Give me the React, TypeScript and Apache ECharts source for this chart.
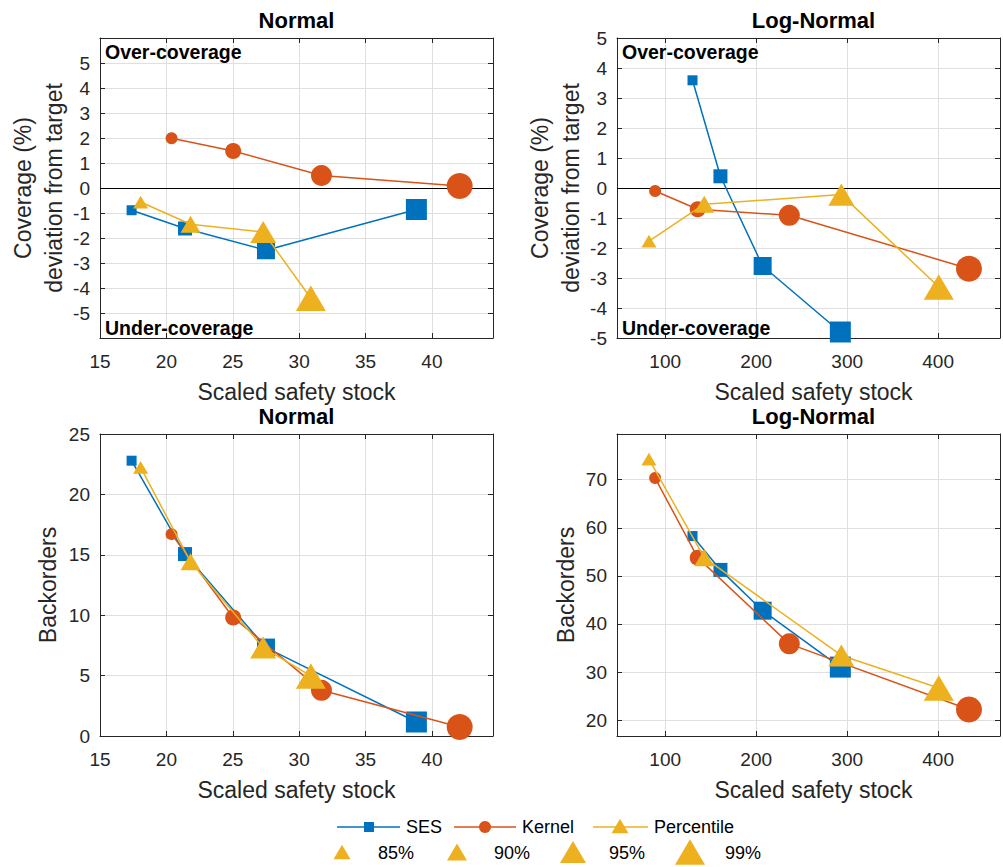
import React, { useEffect, useRef } from "react";
import * as echarts from "echarts";

// ---------- data ----------
const levels = ["85%", "90%", "95%", "99%"];
const methods = ["SES", "Kernel", "Percentile"];

// Normal distribution: scaled safety stock per level
const normalSesX = [17.38, 21.4, 27.5, 38.83];
const normalKernelX = [20.39, 25.03, 31.68, 42.09];
const normalPctX = [18.06, 21.82, 27.29, 30.88];
// Normal: coverage deviation from target (%)
const normalSesCov = [-0.89, -1.62, -2.49, -0.86];
const normalKernelCov = [1.99, 1.48, 0.5, 0.08];
const normalPctCov = [-0.56, -1.45, -1.76, -4.41];
// Normal: backorders
const normalSesBo = [22.79, 15.06, 7.32, 1.16];
const normalKernelBo = [16.71, 9.81, 3.78, 0.75];
const normalPctBo = [22.24, 14.42, 7.32, 4.97];

// Log-Normal distribution: scaled safety stock per level
const lognSesX = [130, 160.7, 207.1, 292.5];
const lognKernelX = [88.9, 135.7, 236.4, 433.9];
const lognPctX = [82.1, 142.9, 293.6, 400.7];
// Log-Normal: coverage deviation
const lognSesCov = [3.59, 0.39, -2.6, -4.8];
const lognKernelCov = [-0.1, -0.71, -0.91, -2.69];
const lognPctCov = [-1.77, -0.54, -0.22, -3.3];
// Log-Normal: backorders
const lognSesBo = [58.28, 51.24, 42.76, 31.03];
const lognKernelBo = [70.34, 53.79, 35.86, 22.21];
const lognPctBo = [74.28, 53.79, 33.45, 26.69];

// tick labels
const normalXTicks = [15, 20, 25, 30, 35, 40];
const lognXTicks = [100, 200, 300, 400];
const covYTicks = [-5, -4, -3, -2, -1, 0, 1, 2, 3, 4, 5];
const boNormalYTicks = [0, 5, 10, 15, 20, 25];
const boLognYTicks = [20, 30, 40, 50, 60, 70];

// ---------- style ----------
const FONT = '"Liberation Sans", Arial, Helvetica, sans-serif';
const AX = "#262626";
const GRIDC = "#dfdfdf";
const C_SES = "#0072BD";
const C_KER = "#D95319";
const C_PCT = "#EDB120";
const squareSizes = [10, 14, 18, 21];
const circleSizes = [12, 16, 21, 26];
const triangleSizes = [15, 20, 26, 30];
const TRI_H = 0.85;
const TICK_FS = 19;
const LABEL_FS = 23;

const grids = [
  { left: 100, top: 38, width: 393, height: 300 },
  { left: 617, top: 38, width: 393, height: 300 },
  { left: 100, top: 434, width: 393, height: 302 },
  { left: 617, top: 434, width: 393, height: 302 },
];

const fmt = (ticks: number[]) => (v: number) =>
  ticks.some((t) => Math.abs(t - v) < 1e-9) ? String(v) : "";

function xAxes(gi: number, min: number, max: number, step: number, ticks: number[]) {
  const common = {
    type: "value",
    gridIndex: gi,
    min,
    max,
    minInterval: step,
    maxInterval: step,
  };
  return [
    {
      ...common,
      position: "bottom",
      axisLine: { show: true, onZero: false, lineStyle: { color: AX, width: 1 } },
      axisTick: { show: true, inside: true, length: 5, lineStyle: { color: AX } },
      axisLabel: { color: AX, fontSize: TICK_FS, fontFamily: FONT, margin: 14, formatter: fmt(ticks) },
      splitLine: { show: true, lineStyle: { color: GRIDC, width: 1 } },
    },
    {
      ...common,
      position: "top",
      axisLine: { show: true, onZero: false, lineStyle: { color: AX, width: 1 } },
      axisTick: { show: true, inside: true, length: 5, lineStyle: { color: AX } },
      axisLabel: { show: false },
      splitLine: { show: false },
    },
  ];
}

function yAxes(gi: number, min: number, max: number, step: number, ticks: number[]) {
  const common = {
    type: "value",
    gridIndex: gi,
    min,
    max,
    minInterval: step,
    maxInterval: step,
  };
  return [
    {
      ...common,
      position: "left",
      axisLine: { show: true, onZero: false, lineStyle: { color: AX, width: 1 } },
      axisTick: { show: true, inside: true, length: 5, lineStyle: { color: AX } },
      axisLabel: { color: AX, fontSize: TICK_FS, fontFamily: FONT, margin: 10, formatter: fmt(ticks) },
      splitLine: { show: true, lineStyle: { color: GRIDC, width: 1 } },
    },
    {
      ...common,
      position: "right",
      axisLine: { show: true, onZero: false, lineStyle: { color: AX, width: 1 } },
      axisTick: { show: true, inside: true, length: 5, lineStyle: { color: AX } },
      axisLabel: { show: false },
      splitLine: { show: false },
    },
  ];
}

function ser(
  name: string,
  xs: number[],
  ys: number[],
  symbol: string,
  sizes: number[],
  color: string,
  gi: number,
  z: number,
  zeroLine = false
) {
  const s: any = {
    type: "line",
    name,
    xAxisIndex: gi * 2,
    yAxisIndex: gi * 2,
    data: xs.map((x, i) => [x, ys[i]]),
    symbol,
    symbolSize: (_v: any, p: any) =>
      symbol === "triangle"
        ? [sizes[p.dataIndex], sizes[p.dataIndex] * TRI_H]
        : sizes[p.dataIndex],
    showAllSymbol: true,
    lineStyle: { color, width: 1.5 },
    itemStyle: { color, borderColor: color, borderWidth: 0 },
    z,
    silent: true,
  };
  if (zeroLine) {
    s.markLine = {
      silent: true,
      z: 1,
      symbol: ["none", "none"],
      label: { show: false },
      lineStyle: { color: "#000", width: 1.2, type: "solid" },
      data: [{ yAxis: 0 }],
    };
  }
  return s;
}

function txt(x: number, y: number, text: string, opts: any = {}) {
  const align = opts.align || "center";
  return {
    type: "text",
    x,
    y,
    rotation: opts.rotation || 0,
    silent: true,
    z: 100,
    style: {
      text,
      fontSize: opts.size || LABEL_FS,
      fontWeight: opts.bold ? "bold" : "normal",
      fontFamily: FONT,
      fill: opts.color || AX,
      align,
      textAlign: align,
      verticalAlign: "middle",
      textVerticalAlign: "middle",
      lineHeight: opts.lineHeight || undefined,
    },
  };
}

function tri(cx: number, cy: number, w: number, color: string) {
  const h = w * TRI_H;
  return {
    type: "polygon",
    silent: true,
    z: 100,
    shape: {
      points: [
        [cx - w / 2, cy + h / 2],
        [cx + w / 2, cy + h / 2],
        [cx, cy - h / 2],
      ],
    },
    style: { fill: color },
  };
}

function buildOption() {
  const xAxis = [
    ...xAxes(0, 15, 44.6, 5, normalXTicks),
    ...xAxes(1, 47, 468, 100, lognXTicks),
    ...xAxes(2, 15, 44.6, 5, normalXTicks),
    ...xAxes(3, 47, 468, 100, lognXTicks),
  ];
  const yAxis = [
    ...yAxes(0, -6, 6, 1, covYTicks),
    ...yAxes(1, -5, 5, 1, covYTicks),
    ...yAxes(2, 0, 25, 5, boNormalYTicks),
    ...yAxes(3, 16.7, 79.5, 10, boLognYTicks),
  ];
  const series = [
    ser(methods[0], normalSesX, normalSesCov, "rect", squareSizes, C_SES, 0, 2, true),
    ser(methods[1], normalKernelX, normalKernelCov, "circle", circleSizes, C_KER, 0, 3),
    ser(methods[2], normalPctX, normalPctCov, "triangle", triangleSizes, C_PCT, 0, 4),
    ser(methods[0], lognSesX, lognSesCov, "rect", squareSizes, C_SES, 1, 2, true),
    ser(methods[1], lognKernelX, lognKernelCov, "circle", circleSizes, C_KER, 1, 3),
    ser(methods[2], lognPctX, lognPctCov, "triangle", triangleSizes, C_PCT, 1, 4),
    ser(methods[0], normalSesX, normalSesBo, "rect", squareSizes, C_SES, 2, 2),
    ser(methods[1], normalKernelX, normalKernelBo, "circle", circleSizes, C_KER, 2, 3),
    ser(methods[2], normalPctX, normalPctBo, "triangle", triangleSizes, C_PCT, 2, 4),
    ser(methods[0], lognSesX, lognSesBo, "rect", squareSizes, C_SES, 3, 2),
    ser(methods[1], lognKernelX, lognKernelBo, "circle", circleSizes, C_KER, 3, 3),
    ser(methods[2], lognPctX, lognPctBo, "triangle", triangleSizes, C_PCT, 3, 4),
  ];

  const cxL = 296.5;
  const cxR = 813.5;
  const ylab = "Coverage (%)\ndeviation from target";
  const legendSizes = [17, 20, 26, 30];
  const legendTriX = [342, 457, 573, 690];
  const legendTxtX = [378, 494, 609, 725];

  const graphic: any[] = [
    txt(cxL, 20, "Normal", { bold: true, color: "#000", size: 22 }),
    txt(cxR, 20, "Log-Normal", { bold: true, color: "#000", size: 22 }),
    txt(cxL, 416, "Normal", { bold: true, color: "#000", size: 22 }),
    txt(cxR, 416, "Log-Normal", { bold: true, color: "#000", size: 22 }),
    txt(cxL, 392, "Scaled safety stock"),
    txt(cxR, 392, "Scaled safety stock"),
    txt(cxL, 790, "Scaled safety stock"),
    txt(cxR, 790, "Scaled safety stock"),
    txt(38.5, 188, ylab, { rotation: Math.PI / 2, lineHeight: 31 }),
    txt(555.5, 188, ylab, { rotation: Math.PI / 2, lineHeight: 31 }),
    txt(48, 585, "Backorders", { rotation: Math.PI / 2 }),
    txt(566, 585, "Backorders", { rotation: Math.PI / 2 }),
    txt(105, 52, "Over-coverage", { bold: true, size: 19.5, align: "left", color: "#000" }),
    txt(105, 328, "Under-coverage", { bold: true, size: 19.5, align: "left", color: "#000" }),
    txt(622, 52, "Over-coverage", { bold: true, size: 19.5, align: "left", color: "#000" }),
    txt(622, 328, "Under-coverage", { bold: true, size: 19.5, align: "left", color: "#000" }),
    // legend row 1
    { type: "line", silent: true, z: 100, shape: { x1: 337, y1: 827, x2: 400, y2: 827 }, style: { stroke: C_SES, lineWidth: 1.5 } },
    { type: "rect", silent: true, z: 100, shape: { x: 364, y: 822, width: 10, height: 10 }, style: { fill: C_SES } },
    txt(406, 827, methods[0], { size: 18, align: "left", color: "#000" }),
    { type: "line", silent: true, z: 100, shape: { x1: 454, y1: 827, x2: 516, y2: 827 }, style: { stroke: C_KER, lineWidth: 1.5 } },
    { type: "circle", silent: true, z: 100, shape: { cx: 485, cy: 827, r: 6 }, style: { fill: C_KER } },
    txt(522, 827, methods[1], { size: 18, align: "left", color: "#000" }),
    { type: "line", silent: true, z: 100, shape: { x1: 593, y1: 827, x2: 648, y2: 827 }, style: { stroke: C_PCT, lineWidth: 1.5 } },
    tri(620, 826, 17, C_PCT),
    txt(654, 827, methods[2], { size: 18, align: "left", color: "#000" }),
  ];
  levels.forEach((lv, i) => {
    graphic.push(tri(legendTriX[i], 852, legendSizes[i], C_PCT));
    graphic.push(txt(legendTxtX[i], 853, lv, { size: 18, align: "left", color: "#000" }));
  });

  return {
    animation: false,
    backgroundColor: "#fff",
    grid: grids.map((g) => ({ ...g, containLabel: false })),
    xAxis,
    yAxis,
    series,
    graphic,
  };
}

export default function App() {
  const ref = useRef<HTMLDivElement>(null);
  useEffect(() => {
    if (!ref.current) return;
    const chart = echarts.init(ref.current, undefined, { renderer: "svg" });
    chart.setOption(buildOption() as any);
    return () => chart.dispose();
  }, []);
  return (
    <div
      ref={ref}
      style={{ position: "absolute", left: 0, top: 0, width: 1003, height: 867, background: "#fff" }}
    />
  );
}
